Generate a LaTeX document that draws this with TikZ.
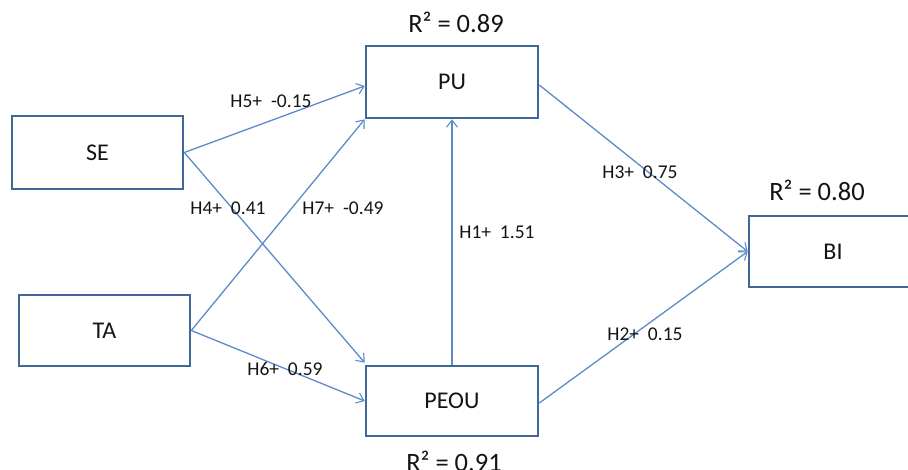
\documentclass[tikz,border=0pt]{standalone}
\usepackage{fontspec}
\setmainfont{Carlito}
\usetikzlibrary{arrows.meta}
\definecolor{boxblue}{HTML}{3F6797}
\definecolor{linkblue}{HTML}{5B8BC8}
\definecolor{txt}{HTML}{141414}
\begin{document}
\begin{tikzpicture}[x=1pt,y=-1pt,
  varbox/.style={draw=boxblue,line width=2.6pt,fill=white,inner sep=0pt,font=\fontsize{24}{28}\selectfont,text=txt},
  link/.style={draw=linkblue,line width=1.3pt,-{Straight Barb[length=7pt,width=11pt,line width=1.1pt]}},
  elab/.style={font=\fontsize{19.5}{22}\selectfont,text=txt,inner sep=0pt},
  rlab/.style={font=\fontsize{26.5}{30}\selectfont,text=txt,inner sep=0pt}]
\clip (0,0) rectangle (908,470);
\useasboundingbox (0,0) rectangle (908,470);
\node[varbox,minimum width=171pt,minimum height=73pt] (SE) at (97.5,152.5) {SE};
\node[varbox,minimum width=171pt,minimum height=71pt] (TA) at (104.5,330.5) {TA};
\node[varbox,minimum width=172pt,minimum height=72pt] (PU) at (452,82) {PU};
\node[varbox,minimum width=172pt,minimum height=70pt] (PEOU) at (452,401) {PEOU};
\node[varbox,minimum width=170pt,minimum height=71pt] (BI) at (834,251.5) {\hspace*{-2pt}BI};
\node[rlab] (r1) at (456,22) {R² = 0.89};
\node[rlab] (r2) at (817,190) {R² = 0.80};
\node[rlab] (r3) at (454,461) {R² = 0.91};
\draw[link] (SE.east) -- ([yshift=-4pt]PU.west);
\draw[link] (SE.east) -- ([yshift=2pt]PEOU.north west);
\draw[link] (TA.east) -- (PU.south west);
\draw[link] (TA.east) -- (PEOU.west);
\draw[link] (PEOU.north) -- (PU.south);
\draw[link] ([yshift=-3pt]PU.east) -- (BI.west);
\draw[link] ([yshift=-2pt]PEOU.east) -- (BI.west);
\node[elab] (l5) at (271,101) {H5+\ \ -0.15};
\node[elab] (l4) at (228,208) {H4+\ \ 0.41};
\node[elab] (l7) at (343,208) {H7+\ \ -0.49};
\node[elab] (l6) at (285,369) {H6+\ \ 0.59};
\node[elab] (l1) at (497,232) {H1+\ \ 1.51};
\node[elab] (l3) at (640,172) {H3+\ \ 0.75};
\node[elab] (l2) at (645,334) {H2+\ \ 0.15};
\end{tikzpicture}
\end{document}
